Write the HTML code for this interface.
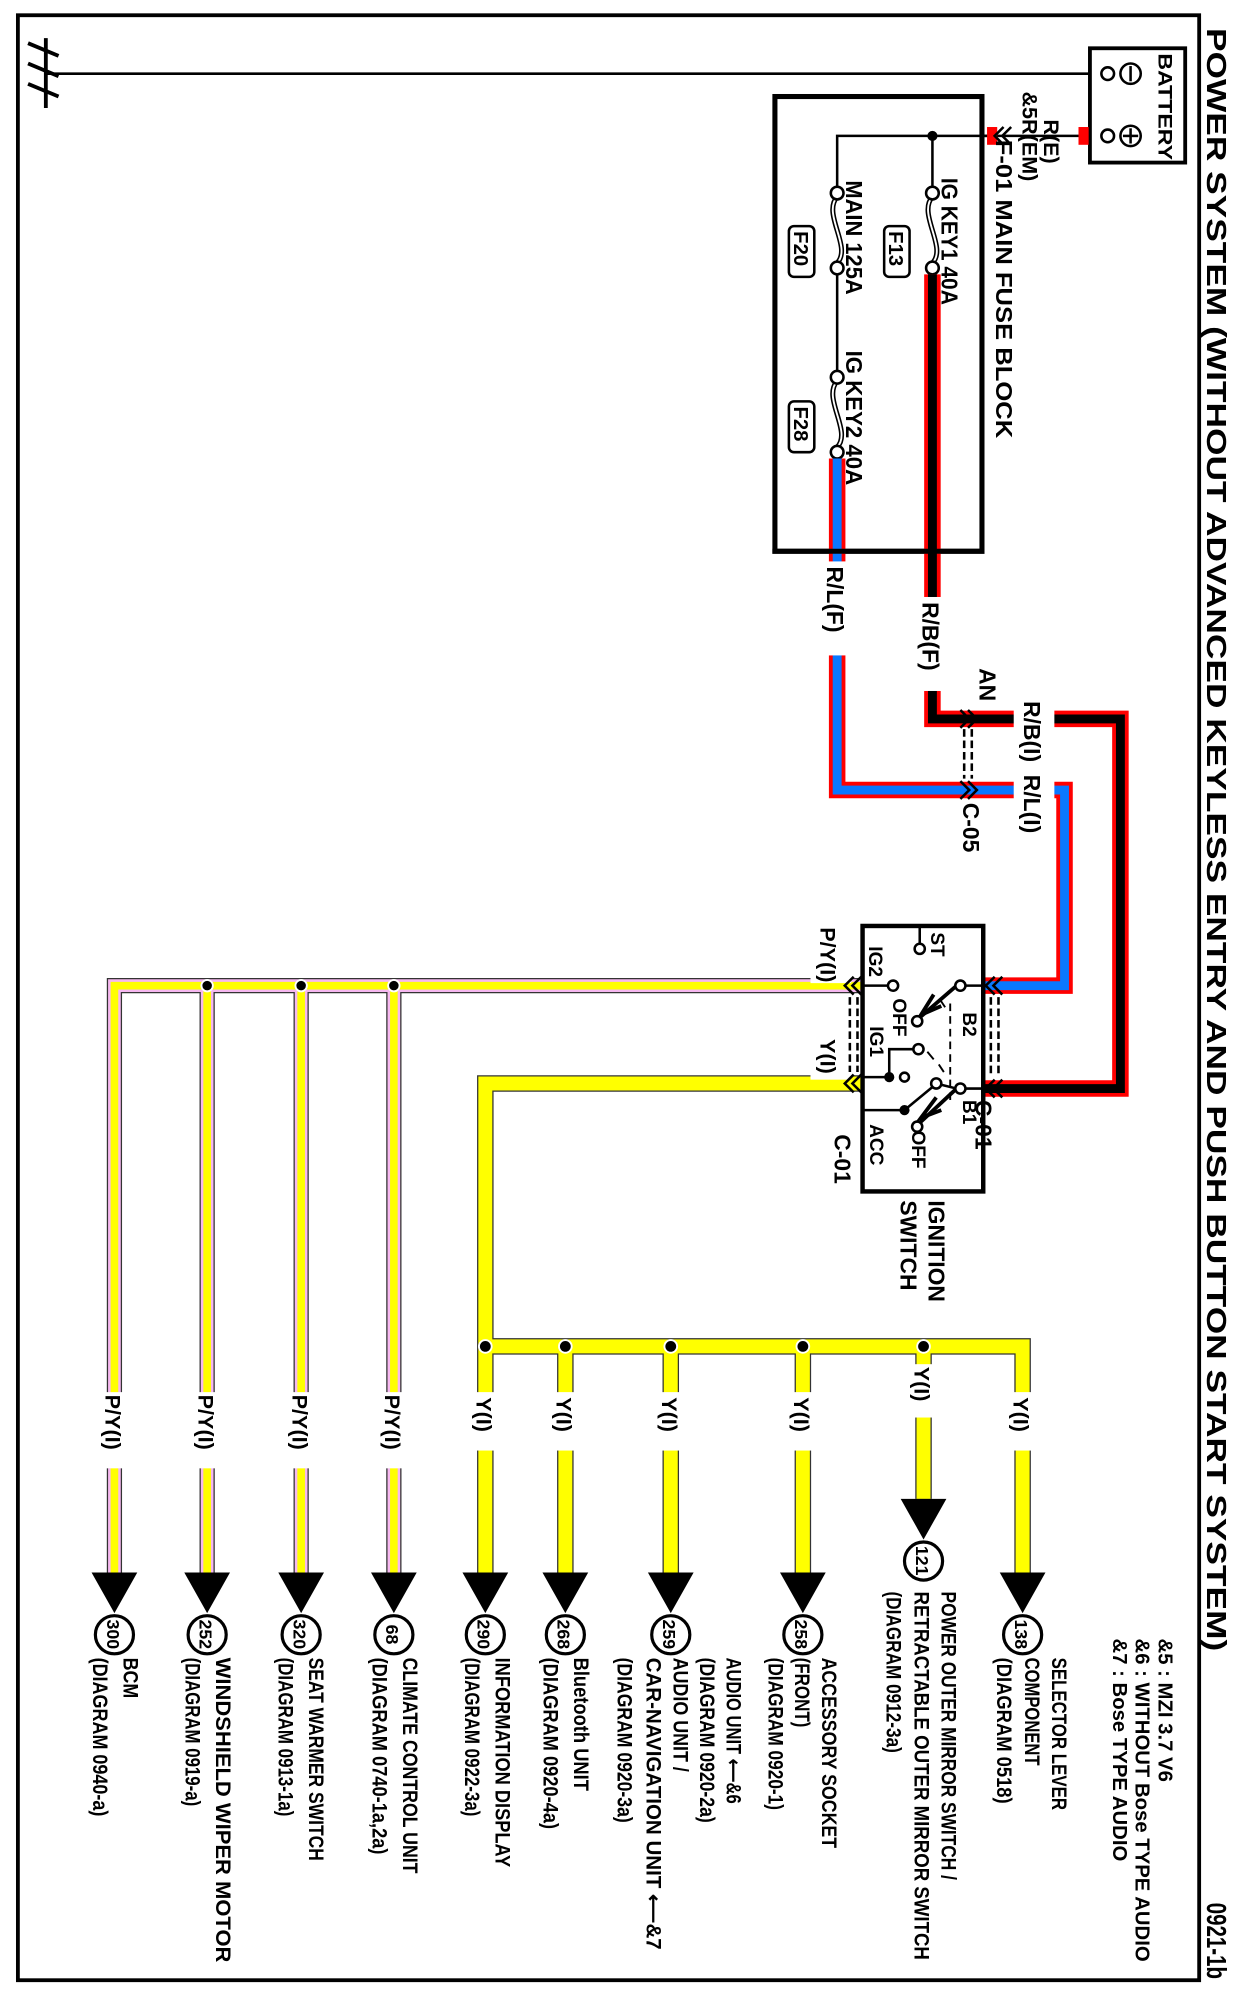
<!DOCTYPE html>
<html><head><meta charset="utf-8"><style>
html,body{margin:0;padding:0;background:#fff;}
svg{display:block;}
text{font-family:"Liberation Sans",Arial,sans-serif;font-weight:bold;fill:#000;}
</style></head><body>
<svg width="1245" height="1998" viewBox="0 0 980 1573" xmlns="http://www.w3.org/2000/svg">
<rect x="0" y="0" width="980" height="1573" fill="#fff"/>
<rect x="14" y="12" width="930" height="1547" fill="none" stroke="#000" stroke-width="3"/>
<text transform="translate(950,22) rotate(90)" font-size="22" textLength="1278" lengthAdjust="spacingAndGlyphs">POWER SYSTEM (WITHOUT ADVANCED KEYLESS ENTRY AND PUSH BUTTON START SYSTEM)</text>
<text transform="translate(950,1498) rotate(90)" font-size="22" textLength="60" lengthAdjust="spacingAndGlyphs">0921-1b</text>
<text transform="translate(912,1290) rotate(90)" font-size="16">&amp;5 : MZI 3.7 V6</text>
<text transform="translate(894,1290) rotate(90)" font-size="16">&amp;6 : WITHOUT Bose TYPE AUDIO</text>
<text transform="translate(876,1290) rotate(90)" font-size="16">&amp;7 : Bose TYPE AUDIO</text>

<line x1="36" y1="30" x2="36" y2="85" stroke="#000" stroke-width="3"/>
<line x1="22" y1="34" x2="46" y2="44" stroke="#000" stroke-width="3"/>
<line x1="22" y1="50" x2="46" y2="60" stroke="#000" stroke-width="3"/>
<line x1="22" y1="66" x2="46" y2="76" stroke="#000" stroke-width="3"/>
<line x1="36" y1="58" x2="872" y2="58" stroke="#000" stroke-width="2"/>
<rect x="858" y="38" width="75" height="90" fill="#fff" stroke="#000" stroke-width="3"/>
<circle cx="872" cy="58" r="5" fill="#fff" stroke="#000" stroke-width="2"/>
<circle cx="872" cy="107" r="5" fill="#fff" stroke="#000" stroke-width="2"/>
<circle cx="890" cy="58" r="8" fill="#fff" stroke="#000" stroke-width="2"/>
<line x1="890" y1="52" x2="890" y2="64" stroke="#000" stroke-width="2"/>
<circle cx="890" cy="107" r="8" fill="#fff" stroke="#000" stroke-width="2"/>
<line x1="890" y1="101" x2="890" y2="113" stroke="#000" stroke-width="2"/>
<line x1="884" y1="107" x2="896" y2="107" stroke="#000" stroke-width="2"/>
<text transform="translate(912,42) rotate(90)" font-size="15" textLength="84" lengthAdjust="spacingAndGlyphs">BATTERY</text>
<line x1="773" y1="107" x2="858" y2="107" stroke="#000" stroke-width="2"/>
<rect x="849" y="100" width="8" height="14" fill="#f00"/>
<rect x="777" y="100" width="8" height="14" fill="#f00"/>
<path d="M790,100 l-7,7 l7,7 M796,100 l-7,7 l7,7" fill="none" stroke="#000" stroke-width="2"/>
<text transform="translate(822,94) rotate(90)" font-size="17">R(E)</text>
<text transform="translate(805,72) rotate(90)" font-size="17">&amp;5R(EM)</text>
<text transform="translate(784,110) rotate(90)" font-size="18" textLength="235" lengthAdjust="spacingAndGlyphs">F-01 MAIN FUSE BLOCK</text>

<rect x="610" y="76" width="163" height="358" fill="none" stroke="#000" stroke-width="4"/>
<polyline points="777,107 659,107 659,149" fill="none" stroke="#000" stroke-width="2"/>
<circle cx="734" cy="107" r="4" fill="#000"/>
<line x1="734" y1="107" x2="734" y2="149" stroke="#000" stroke-width="2"/>
<g fill="none" stroke="#000">
<path d="M734,155 C722,168 746,195 734,207" stroke-width="4"/>
<path d="M734,155 C722,168 746,195 734,207" stroke="#fff" stroke-width="1.5"/>
<path d="M659,155 C647,168 671,195 659,207" stroke-width="4"/>
<path d="M659,155 C647,168 671,195 659,207" stroke="#fff" stroke-width="1.5"/>
<path d="M659,300 C647,313 671,340 659,352" stroke-width="4"/>
<path d="M659,300 C647,313 671,340 659,352" stroke="#fff" stroke-width="1.5"/>
</g>
<line x1="659" y1="213" x2="659" y2="294" stroke="#000" stroke-width="2"/>
<g fill="#fff" stroke="#000" stroke-width="2">
<circle cx="734" cy="152" r="5"/><circle cx="734" cy="211" r="5"/>
<circle cx="659" cy="152" r="5"/><circle cx="659" cy="211" r="5"/>
<circle cx="659" cy="297" r="5"/><circle cx="659" cy="356" r="5"/>
</g>
<text transform="translate(741,140) rotate(90)" font-size="18" textLength="100" lengthAdjust="spacingAndGlyphs">IG KEY1 40A</text>
<text transform="translate(666,142) rotate(90)" font-size="18" textLength="90" lengthAdjust="spacingAndGlyphs">MAIN 125A</text>
<text transform="translate(666,276) rotate(90)" font-size="18" textLength="106" lengthAdjust="spacingAndGlyphs">IG KEY2 40A</text>
<g fill="none" stroke="#000" stroke-width="2">
<rect x="696" y="178" width="20" height="40" rx="4"/>
<rect x="621" y="178" width="20" height="40" rx="4"/>
<rect x="621" y="316" width="20" height="40" rx="4"/>
</g>
<text transform="translate(700,182) rotate(90)" font-size="16">F13</text>
<text transform="translate(625,182) rotate(90)" font-size="16">F20</text>
<text transform="translate(625,320) rotate(90)" font-size="16">F28</text>

<polyline points="734,216 734,566 882,566 882,857 775,857" fill="none" stroke="#f00" stroke-width="13"/>
<polyline points="734,216 734,566 882,566 882,857 775,857" fill="none" stroke="#000" stroke-width="7"/>
<polyline points="659,361 659,622 838,622 838,776 775,776" fill="none" stroke="#f00" stroke-width="13"/>
<polyline points="659,361 659,622 838,622 838,776 775,776" fill="none" stroke="#0a78ff" stroke-width="7"/>
<line x1="608" y1="434" x2="775" y2="434" stroke="#000" stroke-width="4"/>
<rect x="718" y="470" width="32" height="74" fill="#fff"/>
<text transform="translate(726,474) rotate(90)" font-size="18">R/B(F)</text>
<rect x="643" y="442" width="32" height="74" fill="#fff"/>
<text transform="translate(651,446) rotate(90)" font-size="18">R/L(F)</text>
<rect x="798" y="548" width="32" height="62" fill="#fff"/>
<rect x="798" y="605" width="32" height="48" fill="#fff"/>
<text transform="translate(806,552) rotate(90)" font-size="18">R/B(I)</text>
<text transform="translate(806,610) rotate(90)" font-size="18">R/L(I)</text>
<text transform="translate(771,526) rotate(90)" font-size="18">AN</text>
<text transform="translate(758,632) rotate(90)" font-size="18">C-05</text>
<g fill="none" stroke="#000" stroke-width="2">
<path d="M756,559 l7,7 l-7,7 M762,559 l7,7 l-7,7"/>
<path d="M756,615 l7,7 l-7,7 M762,615 l7,7 l-7,7"/>
<line x1="759" y1="574" x2="759" y2="613" stroke-dasharray="6,3"/>
<line x1="765" y1="574" x2="765" y2="613" stroke-dasharray="6,3"/>
</g>

<g fill="none">
<path d="M680,776 H90 V1238 M163,776 V1238 M237,776 V1238 M310,776 V1238" stroke="#333" stroke-width="12"/>
<path d="M680,776 H90 V1238 M163,776 V1238 M237,776 V1238 M310,776 V1238" stroke="#f6b8f0" stroke-width="10"/>
<path d="M680,776 H90 V1238 M163,776 V1238 M237,776 V1238 M310,776 V1238" stroke="#ffff00" stroke-width="6"/>
<path d="M680,853 H382 V1238 M382,1060 H805 V1238 M445,1060 V1238 M528,1060 V1238 M632,1060 V1238 M727,1060 V1180" stroke="#333" stroke-width="13"/>
<path d="M680,853 H382 V1238 M382,1060 H805 V1238 M445,1060 V1238 M528,1060 V1238 M632,1060 V1238 M727,1060 V1180" stroke="#ffff00" stroke-width="11"/>
</g>
<g fill="#000" stroke="#fff" stroke-width="1.5">
<circle cx="163" cy="776" r="4.5"/><circle cx="237" cy="776" r="4.5"/><circle cx="310" cy="776" r="4.5"/>
<circle cx="382" cy="1060" r="5"/><circle cx="445" cy="1060" r="5"/><circle cx="528" cy="1060" r="5"/><circle cx="632" cy="1060" r="5"/><circle cx="727" cy="1060" r="5"/>
</g>
<rect x="638" y="728" width="32" height="46" fill="#fff"/>
<text transform="translate(646,730) rotate(90)" font-size="17">P/Y(I)</text>
<rect x="638" y="816" width="32" height="34" fill="#fff"/>
<text transform="translate(646,818) rotate(90)" font-size="17">Y(I)</text>
<g font-size="17">
<rect x="74" y="1096" width="32" height="60" fill="#fff"/><text transform="translate(83,1098) rotate(90)">P/Y(I)</text>
<rect x="147" y="1096" width="32" height="60" fill="#fff"/><text transform="translate(156,1098) rotate(90)">P/Y(I)</text>
<rect x="221" y="1096" width="32" height="60" fill="#fff"/><text transform="translate(230,1098) rotate(90)">P/Y(I)</text>
<rect x="294" y="1096" width="32" height="60" fill="#fff"/><text transform="translate(303,1098) rotate(90)">P/Y(I)</text>
<rect x="366" y="1096" width="32" height="46" fill="#fff"/><text transform="translate(375,1100) rotate(90)">Y(I)</text>
<rect x="429" y="1096" width="32" height="46" fill="#fff"/><text transform="translate(438,1100) rotate(90)">Y(I)</text>
<rect x="512" y="1096" width="32" height="46" fill="#fff"/><text transform="translate(521,1100) rotate(90)">Y(I)</text>
<rect x="616" y="1096" width="32" height="46" fill="#fff"/><text transform="translate(625,1100) rotate(90)">Y(I)</text>
<rect x="789" y="1096" width="32" height="46" fill="#fff"/><text transform="translate(798,1100) rotate(90)">Y(I)</text>
<rect x="711" y="1074" width="32" height="42" fill="#fff"/><text transform="translate(720,1076) rotate(90)">Y(I)</text>
</g>
<g fill="#000">
<polygon points="72,1238 108,1238 90,1270"/>
<polygon points="145,1238 181,1238 163,1270"/>
<polygon points="219,1238 255,1238 237,1270"/>
<polygon points="292,1238 328,1238 310,1270"/>
<polygon points="364,1238 400,1238 382,1270"/>
<polygon points="427,1238 463,1238 445,1270"/>
<polygon points="510,1238 546,1238 528,1270"/>
<polygon points="614,1238 650,1238 632,1270"/>
<polygon points="787,1238 823,1238 805,1270"/>
<polygon points="709,1180 745,1180 727,1212"/>
</g>
<g fill="#fff" stroke="#000" stroke-width="2.5">
<circle cx="90" cy="1287" r="15"/><circle cx="163" cy="1287" r="15"/><circle cx="237" cy="1287" r="15"/><circle cx="310" cy="1287" r="15"/>
<circle cx="382" cy="1287" r="15"/><circle cx="445" cy="1287" r="15"/><circle cx="528" cy="1287" r="15"/><circle cx="632" cy="1287" r="15"/><circle cx="805" cy="1287" r="15"/>
<circle cx="727" cy="1229" r="15"/>
</g>
<g font-size="14">
<text transform="translate(84,1275) rotate(90)">300</text>
<text transform="translate(157,1275) rotate(90)">252</text>
<text transform="translate(231,1275) rotate(90)">320</text>
<text transform="translate(304,1279) rotate(90)">68</text>
<text transform="translate(376,1275) rotate(90)">290</text>
<text transform="translate(439,1275) rotate(90)">268</text>
<text transform="translate(522,1275) rotate(90)">259</text>
<text transform="translate(626,1275) rotate(90)">258</text>
<text transform="translate(799,1275) rotate(90)">138</text>
<text transform="translate(721,1217) rotate(90)">121</text>
</g>
<g font-size="17" lengthAdjust="spacingAndGlyphs">
<text transform="translate(97,1305) rotate(90)" textLength="32" lengthAdjust="spacingAndGlyphs">BCM</text>
<text transform="translate(73,1305) rotate(90)" textLength="125" lengthAdjust="spacingAndGlyphs">(DIAGRAM 0940-a)</text>
<text transform="translate(170,1305) rotate(90)" textLength="240" lengthAdjust="spacingAndGlyphs">WINDSHIELD WIPER MOTOR</text>
<text transform="translate(146,1305) rotate(90)" textLength="117" lengthAdjust="spacingAndGlyphs">(DIAGRAM 0919-a)</text>
<text transform="translate(243,1305) rotate(90)" textLength="160" lengthAdjust="spacingAndGlyphs">SEAT WARMER SWITCH</text>
<text transform="translate(219,1305) rotate(90)" textLength="125" lengthAdjust="spacingAndGlyphs">(DIAGRAM 0913-1a)</text>
<text transform="translate(317,1305) rotate(90)" textLength="170" lengthAdjust="spacingAndGlyphs">CLIMATE CONTROL UNIT</text>
<text transform="translate(293,1305) rotate(90)" textLength="155" lengthAdjust="spacingAndGlyphs">(DIAGRAM 0740-1a,2a)</text>
<text transform="translate(390,1305) rotate(90)" textLength="165" lengthAdjust="spacingAndGlyphs">INFORMATION DISPLAY</text>
<text transform="translate(366,1305) rotate(90)" textLength="125" lengthAdjust="spacingAndGlyphs">(DIAGRAM 0922-3a)</text>
<text transform="translate(452,1305) rotate(90)" textLength="105" lengthAdjust="spacingAndGlyphs">Bluetooth UNIT</text>
<text transform="translate(428,1305) rotate(90)" textLength="135" lengthAdjust="spacingAndGlyphs">(DIAGRAM 0920-4a)</text>
<text transform="translate(572,1305) rotate(90)" textLength="115" lengthAdjust="spacingAndGlyphs">AUDIO UNIT ⟵&amp;6</text>
<text transform="translate(551,1305) rotate(90)" textLength="130" lengthAdjust="spacingAndGlyphs">(DIAGRAM 0920-2a)</text>
<text transform="translate(530,1305) rotate(90)" textLength="90" lengthAdjust="spacingAndGlyphs">AUDIO UNIT /</text>
<text transform="translate(509,1305) rotate(90)" textLength="230" lengthAdjust="spacingAndGlyphs">CAR-NAVIGATION UNIT ⟵&amp;7</text>
<text transform="translate(486,1305) rotate(90)" textLength="130" lengthAdjust="spacingAndGlyphs">(DIAGRAM 0920-3a)</text>
<text transform="translate(647,1305) rotate(90)" textLength="150" lengthAdjust="spacingAndGlyphs">ACCESSORY SOCKET</text>
<text transform="translate(626,1305) rotate(90)" textLength="55" lengthAdjust="spacingAndGlyphs">(FRONT)</text>
<text transform="translate(605,1305) rotate(90)" textLength="120" lengthAdjust="spacingAndGlyphs">(DIAGRAM 0920-1)</text>
<text transform="translate(741,1253) rotate(90)" textLength="227" lengthAdjust="spacingAndGlyphs">POWER OUTER MIRROR SWITCH /</text>
<text transform="translate(720,1253) rotate(90)" textLength="290" lengthAdjust="spacingAndGlyphs">RETRACTABLE OUTER MIRROR SWITCH</text>
<text transform="translate(698,1253) rotate(90)" textLength="127" lengthAdjust="spacingAndGlyphs">(DIAGRAM 0912-3a)</text>
<text transform="translate(828,1305) rotate(90)" textLength="120" lengthAdjust="spacingAndGlyphs">SELECTOR LEVER</text>
<text transform="translate(807,1305) rotate(90)" textLength="85" lengthAdjust="spacingAndGlyphs">COMPONENT</text>
<text transform="translate(785,1305) rotate(90)" textLength="115" lengthAdjust="spacingAndGlyphs">(DIAGRAM 0518)</text>
</g>

<rect x="679" y="729" width="95" height="209" fill="#fff" stroke="#000" stroke-width="3.5"/>
<g stroke="#000" stroke-width="2" fill="none">
<line x1="724" y1="729" x2="724" y2="743"/>
<line x1="679" y1="776" x2="699" y2="776"/>
<line x1="760" y1="776" x2="774" y2="776"/>
<line x1="753" y1="776" x2="723" y2="802" stroke-width="3"/>
<path d="M735,783 l-10,16 l16,-7" stroke-width="3"/>
<line x1="679" y1="848" x2="700" y2="848"/>
<polyline points="700,848 700,826 719,826"/>
<line x1="760" y1="857" x2="774" y2="857"/>
<line x1="753" y1="857" x2="737" y2="853"/>
<line x1="753" y1="857" x2="724" y2="884" stroke-width="3"/>
<path d="M737,864 l-12,16 l16,-6" stroke-width="3"/>
<line x1="679" y1="874" x2="712" y2="874"/>
<line x1="712" y1="874" x2="735" y2="855"/>
<line x1="748" y1="790" x2="748" y2="870" stroke-dasharray="6,4" stroke-width="1.5"/>
<path d="M740,787 l4,6 M730,828 l5,6 M739,838 l4,6" stroke-width="1.5"/>
</g>
<g fill="#fff" stroke="#000" stroke-width="2">
<circle cx="724" cy="747" r="4"/><circle cx="703" cy="776" r="4"/><circle cx="756" cy="776" r="4"/>
<circle cx="722" cy="804" r="4"/><circle cx="723" cy="826" r="4"/><circle cx="712" cy="848" r="3.5"/>
<circle cx="756" cy="857" r="4"/><circle cx="737" cy="853" r="4"/><circle cx="722" cy="887" r="4"/>
</g>
<circle cx="700" cy="848" r="4" fill="#000"/><circle cx="712" cy="874" r="4" fill="#000"/>
<g font-size="15">
<text transform="translate(733,734) rotate(90)">ST</text>
<text transform="translate(684,745) rotate(90)">IG2</text>
<text transform="translate(758,797) rotate(90)">B2</text>
<text transform="translate(703,786) rotate(90)">OFF</text>
<text transform="translate(685,808) rotate(90)">IG1</text>
<text transform="translate(758,866) rotate(90)">B1</text>
<text transform="translate(685,885) rotate(90)">ACC</text>
<text transform="translate(718,890) rotate(90)">OFF</text>
</g>
<g fill="none" stroke="#000" stroke-width="2">
<path d="M783,769 l-7,7 l7,7 M789,769 l-7,7 l7,7"/>
<path d="M783,850 l-7,7 l7,7 M789,850 l-7,7 l7,7"/>
<line x1="780" y1="785" x2="780" y2="848" stroke-dasharray="6,3"/>
<line x1="786" y1="785" x2="786" y2="848" stroke-dasharray="6,3"/>
<path d="M672,769 l-7,7 l7,7 M678,769 l-7,7 l7,7"/>
<path d="M672,846 l-7,7 l7,7 M678,846 l-7,7 l7,7"/>
<line x1="669" y1="785" x2="669" y2="844" stroke-dasharray="6,3"/>
<line x1="675" y1="785" x2="675" y2="844" stroke-dasharray="6,3"/>
</g>
<text transform="translate(768,866) rotate(90)" font-size="18">C-01</text>
<text transform="translate(657,893) rotate(90)" font-size="18">C-01</text>
<text transform="translate(731,945) rotate(90)" font-size="18">IGNITION</text>
<text transform="translate(709,945) rotate(90)" font-size="18">SWITCH</text>
</svg>
</body></html>
